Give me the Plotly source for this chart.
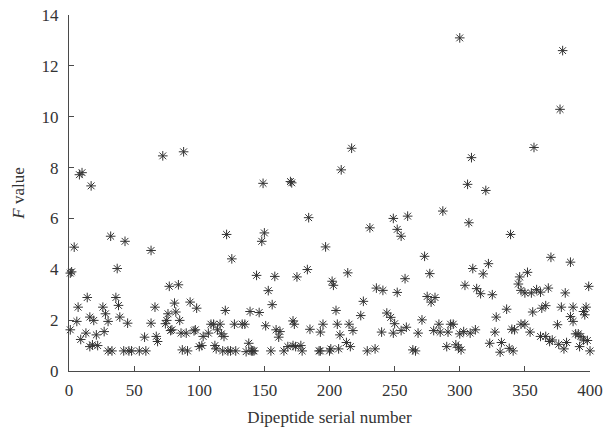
import plotly.graph_objects as go

# Dipeptide serial numbers and F values
serial = [
    1, 2, 1, 8, 10, 17, 32, 43, 4, 63, 37, 14, 36, 7, 26, 38, 66, 28, 16, 19, 6, 30, 39, 45, 63,
    13, 21, 27, 9, 58, 67, 68, 16, 18, 22, 30, 33, 42, 46, 48, 54, 59,
    72, 88, 121, 125, 77, 84, 81, 93, 98, 76, 82, 75, 74, 85, 120, 139, 78, 79, 86, 90, 97, 96,
    109, 111, 116, 127, 133, 135, 103, 107, 114, 117, 119, 87, 91, 100, 102, 112, 113, 118, 122,
    124, 128, 136, 140, 138,
    149, 170, 171, 209, 184, 150, 148, 197, 144, 158, 175, 183, 202, 203, 214, 153, 156, 146, 205,
    151, 159, 162, 161, 172, 173, 185, 193, 195, 206, 215, 208, 213, 141, 142, 155, 165, 168, 172,
    174, 178, 179, 192, 193, 200, 201, 207,
    217, 249, 260, 231, 252, 255, 287, 273, 277, 258, 236, 241, 252, 226, 275, 278, 281, 224, 244,
    247, 250, 271, 218, 240, 249, 255, 259, 268, 280, 284, 285, 216, 229, 235, 264, 266,
    357, 309, 306, 320, 307, 339, 310, 322, 318, 304, 313, 316, 325, 346, 352, 345, 347, 350, 355,
    359, 336, 328, 356, 293, 295, 291, 300, 303, 308, 312, 327, 340, 342, 347, 350, 354, 290, 297,
    299, 301, 323, 332, 331, 338, 341,
    370, 385, 368, 362, 381, 399, 363, 366, 378, 387, 397, 385, 387, 395, 396, 375, 362, 366, 369,
    371, 376, 380, 382, 389, 391, 393, 395, 398, 392, 400,
    300, 379, 377,
]
f_value = [
    3.85, 3.9, 1.62, 7.72, 7.8, 7.28, 5.3, 5.1, 4.87, 4.74, 4.03, 2.89, 2.89, 2.51, 2.51, 2.58, 2.51,
    2.25, 2.12, 1.99, 1.95, 1.95, 2.12, 1.88, 1.88,
    1.49, 1.42, 1.55, 1.24, 1.33, 1.36, 1.16, 0.96, 1.03, 1.0, 0.79, 0.79, 0.79, 0.79, 0.79, 0.79, 0.79,
    8.46, 8.62, 5.37, 4.41, 3.33, 3.39, 2.67, 2.71, 2.47, 2.25, 2.32, 1.99, 1.86, 1.99, 2.38, 2.34,
    1.59, 1.62, 1.49, 1.49, 1.62, 1.58,
    1.84, 1.84, 1.84, 1.84, 1.84, 1.84, 1.36, 1.49, 1.62, 1.46, 1.36, 0.83, 0.79, 0.96, 1.0, 1.0, 0.87,
    0.79, 0.79, 0.79, 0.79, 0.76, 0.79, 1.09,
    7.38, 7.45, 7.4, 7.91, 6.03, 5.43, 5.1, 4.88, 3.76, 3.72, 3.7, 3.99, 3.53, 3.37, 3.86, 3.16, 2.61,
    2.3, 2.38,
    1.78, 1.62, 1.55, 1.33, 1.97, 1.84, 1.64, 1.53, 1.84, 1.84, 1.84, 1.42, 1.12, 0.79, 0.79, 0.79,
    0.79, 0.96, 1.0, 0.96, 1.0, 0.79, 0.79, 0.79, 0.79, 0.87, 0.87,
    8.76, 6.0, 6.09, 5.63, 5.57, 5.3, 6.29, 4.51, 3.83, 3.63, 3.26, 3.17, 3.09, 2.74, 2.93, 2.71, 2.89,
    2.18, 2.28, 2.11, 1.86, 2.01, 1.59, 1.53, 1.49, 1.59, 1.72, 1.49, 1.59, 1.84, 1.53, 0.96, 0.79,
    0.87, 0.83, 0.79,
    8.79, 8.39, 7.34, 7.1, 5.83, 5.37, 4.03, 4.22, 3.82, 3.37, 3.24, 3.04, 3.0, 3.7, 3.88, 3.42, 3.17,
    3.07, 3.07, 3.2, 2.43, 2.12, 2.32, 1.84, 1.84, 1.53, 1.46, 1.55, 1.49, 1.62, 1.53, 1.64, 1.62,
    1.84, 1.84, 1.53, 0.96, 1.03, 0.93, 0.83, 1.09, 1.12, 0.74, 0.89, 0.79,
    4.47, 4.28, 3.26, 3.1, 3.07, 3.33, 2.47, 2.57, 2.51, 2.51, 2.51, 2.14, 1.95, 2.34, 2.21, 1.82,
    1.36, 1.36, 1.16, 1.22, 1.05, 0.87, 1.12, 1.46, 1.46, 1.36, 1.22, 1.2, 0.96, 0.79,
    13.1, 12.6, 10.29,
]

x_ticks = [0, 50, 100, 150, 200, 250, 300, 350, 400]
y_ticks = [0, 2, 4, 6, 8, 10, 12, 14]

font_family = "Liberation Serif, Times New Roman, serif"
axis_color = "#4a4a4a"
text_color = "#333333"

fig = go.Figure()
fig.add_trace(go.Scatter(
    x=serial, y=f_value, mode="markers",
    marker=dict(symbol="asterisk-open", size=8, color="#333333",
                line=dict(width=1.0, color="#333333")),
    cliponaxis=False, showlegend=False, hoverinfo="skip",
))

fig.update_layout(
    width=608, height=434,
    margin=dict(l=69, r=18, t=15, b=63),
    paper_bgcolor="white", plot_bgcolor="white",
    font=dict(family=font_family, size=17, color=text_color),
    xaxis=dict(
        range=[0, 400], tickvals=x_ticks, ticks="inside", ticklen=5, tickwidth=1.2,
        tickcolor=axis_color, showline=True, linecolor=axis_color, linewidth=1.3,
        showgrid=False, zeroline=False, ticklabelstandoff=3, automargin=False,
        ticklabeloverflow="allow",
        title=dict(text="Dipeptide serial number", standoff=12,
                   font=dict(family=font_family, size=17, color=text_color)),
    ),
    yaxis=dict(
        range=[0, 14], tickvals=y_ticks, ticks="inside", ticklen=5, tickwidth=1.2,
        tickcolor=axis_color, showline=True, linecolor=axis_color, linewidth=1.3,
        showgrid=False, zeroline=False, ticklabelstandoff=6, automargin=False,
        ticklabeloverflow="allow",
        title=dict(text="<i>F</i> value", standoff=12,
                   font=dict(family=font_family, size=17, color=text_color)),
    ),
)

# remove the browser's default page margin so the figure fills the window
fig.write_html("out.html", config={"displayModeBar": False},
               post_script="document.body.style.margin='0';")
